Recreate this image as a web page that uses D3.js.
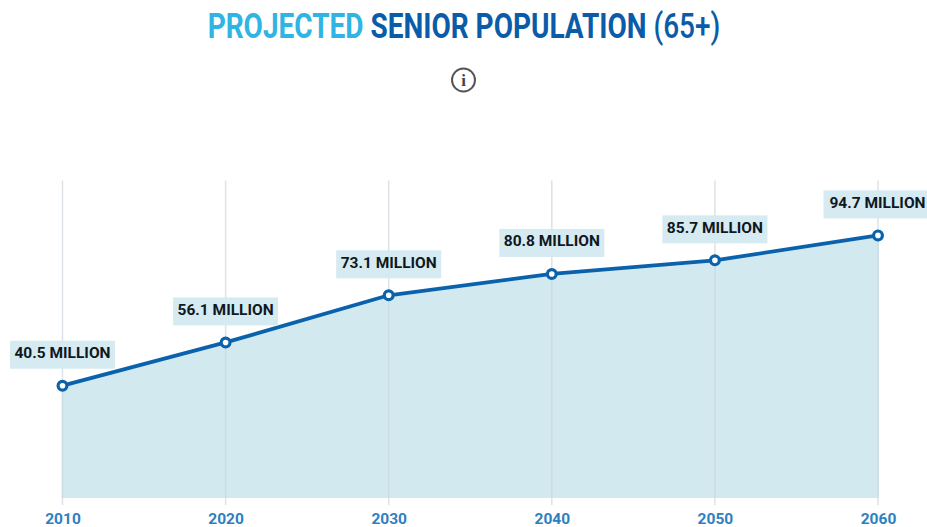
<!DOCTYPE html>
<html>
<head>
<meta charset="utf-8">
<script src="https://cdn.jsdelivr.net/npm/d3@7"></script>
<style>
  html, body { margin: 0; padding: 0; background: #fff; }
  svg { display: block; }
</style>
</head>
<body>
<div id="chart"></div>
<script>
const years = [2010, 2020, 2030, 2040, 2050, 2060];
const seniors = [40.5, 56.1, 73.1, 80.8, 85.7, 94.7];
const titleParts = [
  { text: "PROJECTED", color: "#2fb4e4", weight: 700 },
  { text: " SENIOR POPULATION", color: "#0b5ca8", weight: 700 },
  { text: " (65+)", color: "#0b5ca8", weight: 500 }
];

const width = 927, height = 527;
const svg = d3.select("#chart").append("svg").attr("width", width).attr("height", height);

const x = d3.scalePoint().domain(years).range([62.5, 878]);
const y = d3.scaleLinear().domain([0, 114.5]).range([498, 180.5]);

// Vertical guides
svg.append("g").selectAll("line").data(years).join("line")
  .attr("x1", d => x(d)).attr("x2", d => x(d))
  .attr("y1", y(114.5)).attr("y2", 505)
  .attr("stroke", "#dde2e8").attr("stroke-width", 1.5);

// Shaded area under the line
const pts = years.map((yr, i) => ({ yr, v: seniors[i] }));
svg.append("path").datum(pts)
  .attr("fill", "#d3e9f0")
  .attr("d", d3.area().x(d => x(d.yr)).y0(y(0)).y1(d => y(d.v)));

// Guides stay faintly visible over the fill
svg.append("g").selectAll("line").data(pts).join("line")
  .attr("x1", d => x(d.yr)).attr("x2", d => x(d.yr))
  .attr("y1", d => y(d.v)).attr("y2", y(0))
  .attr("stroke", "#cbdce4").attr("stroke-width", 1.5);

// Year axis
const axis = svg.append("g")
  .attr("transform", `translate(0,${y(0)})`)
  .call(d3.axisBottom(x).tickSize(0).tickPadding(15).tickFormat(d3.format("d")));
axis.select(".domain").remove();
axis.selectAll("text")
  .attr("fill", "#2f80c0")
  .style("font", "700 15.5px Roboto, sans-serif");

// Population line and markers
svg.append("path").datum(pts)
  .attr("fill", "none").attr("stroke", "#0a62ad").attr("stroke-width", 3.8)
  .attr("stroke-linejoin", "round")
  .attr("d", d3.line().x(d => x(d.yr)).y(d => y(d.v)));

svg.append("g").selectAll("circle").data(pts).join("circle")
  .attr("cx", d => x(d.yr)).attr("cy", d => y(d.v)).attr("r", 4.4)
  .attr("fill", "#fff").attr("stroke", "#0a62ad").attr("stroke-width", 3.2);

// Value labels on tinted plates
const labels = svg.append("g").selectAll("g").data(pts).join("g")
  .attr("transform", d => `translate(${d.yr === 2060 ? x(d.yr) - 2 : x(d.yr)},${y(d.v) - 31})`);
labels.append("rect")
  .attr("x", -52.5).attr("y", -14).attr("width", 105).attr("height", 28)
  .attr("fill", "#d3e9f0").attr("fill-opacity", 0.95);
labels.append("text")
  .attr("text-anchor", "middle").attr("x", d => d.yr === 2060 ? 1.5 : 0).attr("y", -2).attr("dy", "0.35em")
  .attr("fill", "#10181f")
  .style("font", "700 15.5px Roboto, sans-serif")
  .text(d => `${d.v.toFixed(1)} MILLION`);

// Title, condensed horizontally to the narrow headline width
const title = svg.append("text")
  .attr("text-anchor", "middle")
  .attr("transform", "translate(464,37.5) scale(0.8,1)")
  .style("font", "700 35px Roboto, sans-serif");
title.selectAll("tspan").data(titleParts).join("tspan")
  .attr("fill", d => d.color)
  .attr("font-weight", d => d.weight)
  .style("white-space", "pre")
  .text(d => d.text);

// Info icon
const info = svg.append("g").attr("transform", "translate(463.5,80)");
info.append("circle").attr("r", 11.5).attr("fill", "#fff").attr("stroke", "#555").attr("stroke-width", 2);
info.append("text").attr("text-anchor", "middle").attr("y", 6)
  .attr("fill", "#444")
  .style("font", "700 17px 'Liberation Serif', serif")
  .text("i");
</script>
</body>
</html>
